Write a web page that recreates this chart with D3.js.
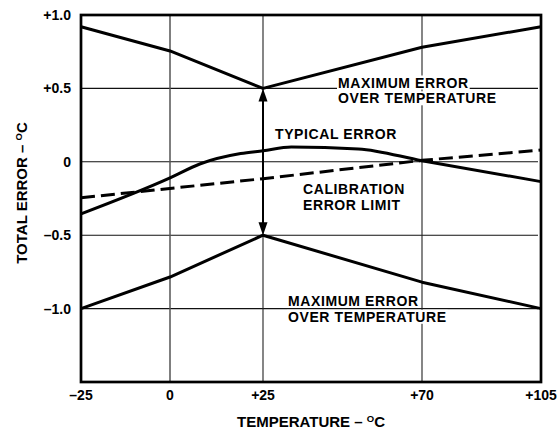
<!DOCTYPE html>
<html><head><meta charset="utf-8">
<script src="https://cdn.jsdelivr.net/npm/d3@7"></script>
<style>
html,body{margin:0;padding:0;background:#fff;}
svg{display:block;}
text{font-family:"Liberation Sans",Arial,Helvetica,sans-serif;font-weight:bold;fill:#000;}
</style></head>
<body><div id="chart"></div>
<script>
// ---- data ----
const xTicks = [-25, 0, 25, 70, 105];
const xTickLabels = ["\u201325", "0", "+25", "+70", "+105"];
const yTicks = [1.0, 0.5, 0, -0.5, -1.0];
const yTickLabels = ["+1.0", "+0.5", "0", "\u20130.5", "\u20131.0"];

const maxTemps = [-25, 0, 25, 70, 105];
const maxUpper = [0.92, 0.755, 0.5, 0.78, 0.92];
const maxLower = [-1.0, -0.785, -0.5, -0.82, -1.0];

const typicalTemps = [-25, 0, 8, 19, 25, 33, 52, 70, 105];
const typicalErr = [-0.355, -0.11, -0.015, 0.056, 0.075, 0.1, 0.088, 0.007, -0.135];

const calTemps = [-25, 25, 70, 105];
const calErr = [-0.245, -0.115, 0.01, 0.08];

const arrowTemp = 25;
const arrowEnds = [0.5, -0.5];

// ---- chart ----
const W = 560, H = 430;
const svg = d3.select("#chart").append("svg").attr("width", W).attr("height", H);
svg.append("rect").attr("width", W).attr("height", H).attr("fill", "#fff");

const x = d3.scaleLinear().domain([-25, 0, 25, 70, 105]).range([81, 170, 263, 422, 541]);
const y = d3.scaleLinear().domain([-1.5, 1.0]).range([382, 15]);
const x0 = x(-25), x1 = x(105), yT = y(1.0), yB = y(-1.5);

// gridlines
const g = svg.append("g");
g.selectAll("line.h").data(yTicks.slice(1)).join("line")
  .attr("x1", x0).attr("x2", x1 - 3)
  .attr("y1", d => y(d)).attr("y2", d => y(d))
  .attr("stroke", "#111").attr("stroke-width", 1.1);
g.selectAll("line.v").data(xTicks.slice(1, -1)).join("line")
  .attr("x1", d => x(d)).attr("x2", d => x(d))
  .attr("y1", yT).attr("y2", yB)
  .attr("stroke", (d) => d === 0 ? "#555" : "#222").attr("stroke-width", d => d === 0 ? 1.5 : 1.1);

// tick labels
svg.selectAll("text.yt").data(yTicks).join("text")
  .attr("x", 71).attr("y", d => y(d)).attr("dy", "0.36em")
  .attr("text-anchor", "end").attr("font-size", 14)
  .text((d, i) => yTickLabels[i]);
svg.selectAll("text.xt").data(xTicks).join("text")
  .attr("x", d => x(d)).attr("y", 400)
  .attr("text-anchor", "middle").attr("font-size", 14)
  .text((d, i) => xTickLabels[i]);

// axis titles
function degTitle(sel, label) {
  sel.append("tspan").text(label + " \u2013 ");
  sel.append("tspan").attr("font-size", 9.5).attr("dy", -5).text("O");
  sel.append("tspan").attr("dy", 5).text("C");
}
const xt = svg.append("text").attr("x", 311).attr("y", 427).attr("text-anchor", "middle").attr("font-size", 15);
degTitle(xt, "TEMPERATURE");
const yt = svg.append("text").attr("transform", "translate(27,193) rotate(-90)").attr("text-anchor", "middle").attr("font-size", 15);
degTitle(yt, "TOTAL ERROR");

// annotation labels with white backing
function label(lines, lx, baseline, lh) {
  const grp = svg.append("g");
  lines.forEach((t, i) => {
    const bgRect = grp.append("rect").attr("fill", "#fff");
    const tx = grp.append("text").attr("x", lx).attr("y", baseline + i * lh)
      .attr("font-size", 14).attr("letter-spacing", 0.6).text(t);
    const len = tx.node().getComputedTextLength();
    bgRect.attr("x", lx - 1).attr("y", baseline + i * lh - 12).attr("width", len + 2).attr("height", 14);
  });
}
label(["MAXIMUM ERROR", "OVER TEMPERATURE"], 338, 87.5, 15.8);
label(["TYPICAL ERROR"], 275, 138.5, 15.8);
label(["CALIBRATION", "ERROR LIMIT"], 303, 193.5, 16);
label(["MAXIMUM ERROR", "OVER TEMPERATURE"], 288, 306, 15.8);

// data lines
const lineGen = d3.line().x(d => x(d[0])).y(d => y(d[1]));
const smooth = d3.line().x(d => x(d[0])).y(d => y(d[1])).curve(d3.curveMonotoneX);
const zip = (a, b) => a.map((v, i) => [v, b[i]]);

svg.append("path").attr("d", lineGen(zip(maxTemps, maxUpper)))
  .attr("fill", "none").attr("stroke", "#000").attr("stroke-width", 3).attr("stroke-linejoin", "round");
svg.append("path").attr("d", lineGen(zip(maxTemps, maxLower)))
  .attr("fill", "none").attr("stroke", "#000").attr("stroke-width", 3).attr("stroke-linejoin", "round");
svg.append("path").attr("d", smooth(zip(typicalTemps, typicalErr)))
  .attr("fill", "none").attr("stroke", "#000").attr("stroke-width", 3);
svg.append("path").attr("d", lineGen(zip(calTemps, calErr)))
  .attr("fill", "none").attr("stroke", "#000").attr("stroke-width", 3).attr("stroke-dasharray", "14,6");

// double arrow
const ax = x(arrowTemp), aTop = y(arrowEnds[0]), aBot = y(arrowEnds[1]);
const ah = 13, aw = 4.5;
svg.append("line").attr("x1", ax).attr("x2", ax).attr("y1", aTop + ah - 1).attr("y2", aBot - ah + 1)
  .attr("stroke", "#000").attr("stroke-width", 2);
svg.append("path").attr("d", `M${ax},${aTop}L${ax - aw},${aTop + ah}L${ax + aw},${aTop + ah}Z`).attr("fill", "#000");
svg.append("path").attr("d", `M${ax},${aBot}L${ax - aw},${aBot - ah}L${ax + aw},${aBot - ah}Z`).attr("fill", "#000");

// frame
svg.append("rect").attr("x", x0).attr("y", yT).attr("width", x1 - x0).attr("height", yB - yT)
  .attr("fill", "none").attr("stroke", "#000").attr("stroke-width", 2.7);
</script>
</body></html>
